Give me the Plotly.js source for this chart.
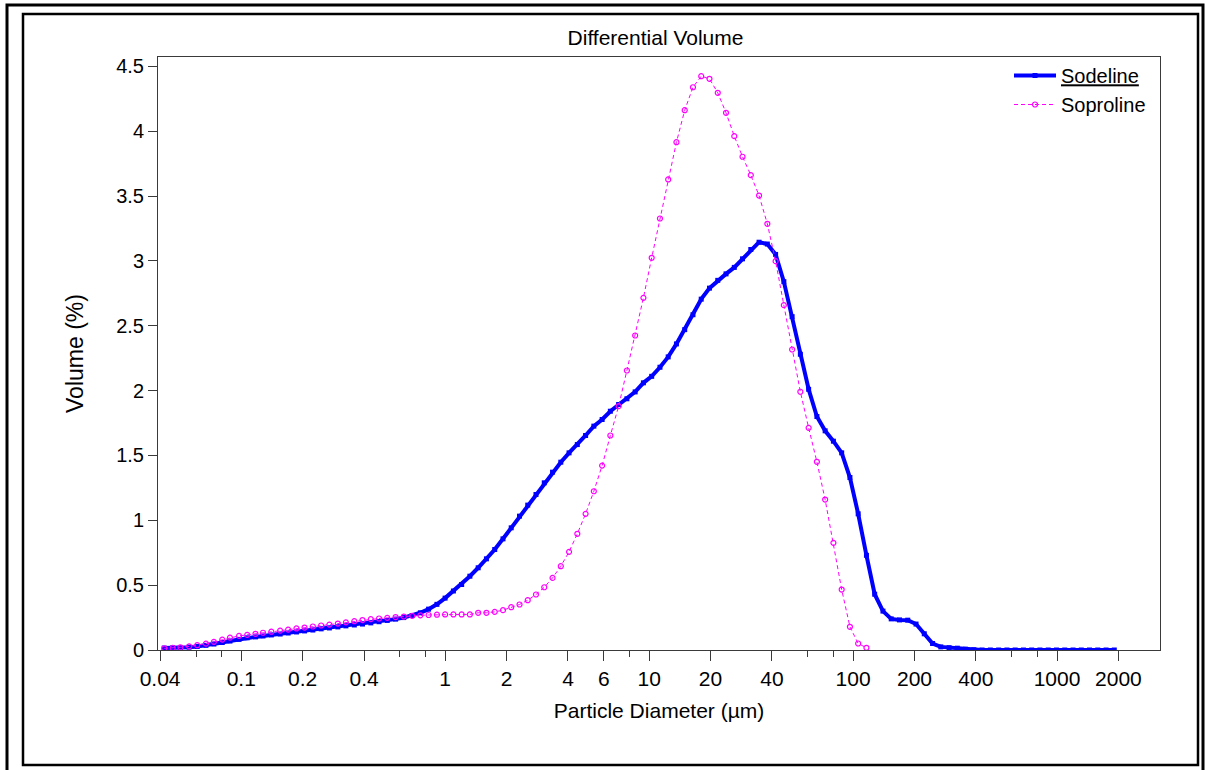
<!DOCTYPE html>
<html>
<head>
<meta charset="utf-8">
<script src="https://cdn.plot.ly/plotly-3.0.1.min.js"></script>
<style>
  html, body { margin: 0; padding: 0; background: #fff; }
  #chart { width: 1206px; height: 770px; }
</style>
</head>
<body>
<div id="chart"></div>
<script>
// Particle diameters (µm), channel centres
const diameters = [0.0419,0.0461,0.0503,0.0555,0.0608,0.0671,0.0734,0.0807,0.0880,0.0975,
0.1069,0.1174,0.1278,0.1404,0.1551,0.1698,0.1865,0.2043,0.2243,0.2463,
0.2704,0.2976,0.3259,0.3584,0.3930,0.4317,0.4737,0.5198,0.5711,0.6266,
0.6885,0.7555,0.8289,0.9106,0.9986,1.097,1.204,1.321,1.451,1.593,
1.749,1.920,2.107,2.314,2.539,2.787,3.060,3.360,3.688,4.048,
4.444,4.879,5.356,5.880,6.454,7.085,7.778,8.538,9.372,10.29,
11.30,12.40,13.61,14.94,16.40,18.00,19.76,21.70,23.82,26.15,
28.70,31.51,34.59,37.98,41.69,45.76,50.24,55.14,60.54,66.45,
72.94,80.08,87.91,96.50,105.9,116.3,127.6,140.1,153.8,168.9,
185.4,203.5,223.4,245.3,269.2,295.6,324.4,356.2,391.0,429.2,
471.2,517.2,567.9,623.3,684.3,751.1,824.6,905.3,993.7,1091,
1198,1315,1443,1584,1740,1909];

// Differential volume (%) – Sodeline
const sodeline = [0.015,0.016,0.018,0.022,0.027,0.036,0.046,0.058,0.069,0.082,
0.094,0.101,0.108,0.116,0.123,0.131,0.139,0.147,0.154,0.163,
0.170,0.178,0.186,0.193,0.200,0.209,0.218,0.228,0.238,0.250,
0.266,0.287,0.315,0.352,0.400,0.455,0.505,0.569,0.634,0.703,
0.775,0.857,0.942,1.032,1.117,1.199,1.289,1.371,1.448,1.520,
1.584,1.654,1.726,1.777,1.841,1.893,1.937,1.990,2.060,2.110,
2.180,2.260,2.360,2.470,2.585,2.705,2.790,2.850,2.900,2.950,
3.016,3.088,3.144,3.130,3.050,2.840,2.570,2.280,2.010,1.800,
1.690,1.610,1.520,1.330,1.050,0.730,0.430,0.300,0.240,0.232,
0.230,0.200,0.125,0.050,0.024,0.018,0.014,0.006,0.002,0,
0,0,0,0,0,0,0,0,0,0,
0,0,0,0,0,0];

// Differential volume (%) – Soproline
const soproline = [0.013,0.016,0.021,0.028,0.037,0.049,0.063,0.080,0.095,0.109,
0.117,0.125,0.133,0.141,0.149,0.157,0.166,0.173,0.181,0.189,
0.196,0.204,0.213,0.222,0.231,0.238,0.243,0.248,0.254,0.258,
0.263,0.267,0.270,0.272,0.274,0.274,0.274,0.274,0.287,0.287,
0.294,0.307,0.330,0.351,0.384,0.428,0.484,0.556,0.646,0.757,
0.896,1.050,1.224,1.422,1.654,1.880,2.155,2.425,2.715,3.024,
3.327,3.628,3.915,4.162,4.339,4.424,4.404,4.296,4.142,3.962,
3.803,3.661,3.504,3.286,2.998,2.659,2.317,1.991,1.713,1.451,
1.160,0.826,0.466,0.179,0.050,0.017];

const seriesNames = ['Sodeline', 'Soproline'];
const xTickVals = [0.04,0.1,0.2,0.4,1,2,4,6,10,20,40,100,200,400,1000,2000];
const xTickText = ['0.04','0.1','0.2','0.4','1','2','4','6','10','20','40','100','200','400','1000','2000'];
const xMinorVals = [0.06,0.08,0.6,0.8,8,60,80,600,800];
const yTickVals = [0,0.5,1,1.5,2,2.5,3,3.5,4,4.5];
const yTickText = ['0','0.5','1','1.5','2','2.5','3','3.5','4','4.5'];

const FONT = 'Liberation Sans, Arial, sans-serif';
const axisColor = '#3a3a3a';

const traces = [
  {
    x: diameters.slice(0, sodeline.length),
    y: sodeline,
    name: '<span style="text-decoration:underline">' + seriesNames[0] + '</span>',
    type: 'scatter',
    mode: 'lines+markers',
    line: { color: '#0000ff', width: 4 },
    marker: { symbol: 'square', size: 5, color: '#0000ff' },
    hoverinfo: 'skip'
  },
  {
    x: diameters.slice(0, soproline.length),
    y: soproline,
    name: seriesNames[1],
    type: 'scatter',
    mode: 'lines+markers',
    line: { color: '#ff00ff', width: 1, dash: '4px,3px' },
    marker: { symbol: 'circle-open', size: 5, color: '#ff00ff', line: { width: 1.2, color: '#ff00ff' } },
    hoverinfo: 'skip'
  }
];

const L = 158, R = 46, T = 57, B = 120;
const W = 1206, H = 770;
const pw = W - L - R, ph = H - T - B;
const px = v => (v - L) / pw;
const py = v => (H - B - v) / ph;

const layout = {
  width: W,
  height: H,
  margin: { l: L, r: R, t: T, b: B, pad: 0 },
  paper_bgcolor: '#ffffff',
  plot_bgcolor: '#ffffff',
  font: { family: FONT, size: 21, color: '#000' },
  showlegend: true,
  title: {
    text: 'Differential Volume',
    font: { family: FONT, size: 21, color: '#000' },
    x: 0.4965, xref: 'paper', xanchor: 'center',
    y: 1 - 38 / H, yref: 'container', yanchor: 'middle'
  },
  xaxis: {
    type: 'log',
    range: [-1.4083, 3.5049],
    tickmode: 'array',
    tickvals: xTickVals,
    ticktext: xTickText,
    ticks: 'outside',
    ticklen: 10,
    tickwidth: 1,
    tickcolor: axisColor,
    minor: { tickmode: 'array', tickvals: xMinorVals, ticks: 'outside', ticklen: 6, tickwidth: 1, tickcolor: axisColor, showgrid: false },
    showline: true,
    linecolor: axisColor,
    linewidth: 1,
    mirror: true,
    showgrid: false,
    zeroline: false,
    tickfont: { family: FONT, size: 21, color: '#000' },
    title: { text: 'Particle Diameter (µm)', font: { family: FONT, size: 21, color: '#000' }, standoff: 14 }
  },
  yaxis: {
    range: [0, ph / 129.7],
    tickmode: 'array',
    tickvals: yTickVals,
    ticktext: yTickText,
    ticks: 'outside',
    ticklen: 9,
    tickwidth: 1,
    tickcolor: axisColor,
    showline: true,
    linecolor: axisColor,
    linewidth: 1,
    mirror: true,
    showgrid: false,
    zeroline: false,
    tickfont: { family: FONT, size: 20, color: '#000' },
    title: { text: 'Volume (%)', font: { family: FONT, size: 23, color: '#000' }, standoff: 26 }
  },
  legend: {
    x: px(1009), xanchor: 'left',
    y: py(56), yanchor: 'top',
    bgcolor: 'rgba(0,0,0,0)',
    borderwidth: 0,
    font: { family: FONT, size: 20, color: '#000' },
    itemwidth: 42,
    tracegroupgap: 0
  },
  shapes: [
    { type: 'rect', xref: 'paper', yref: 'paper', x0: px(7), x1: px(1203), y0: py(775), y1: py(5), line: { color: '#000', width: 3 } },
    { type: 'rect', xref: 'paper', yref: 'paper', x0: px(23), x1: px(1198), y0: py(765), y1: py(14), line: { color: '#000', width: 2.5 } }
  ]
};

Plotly.newPlot('chart', traces, layout, { displayModeBar: false, staticPlot: true });
</script>
</body>
</html>
